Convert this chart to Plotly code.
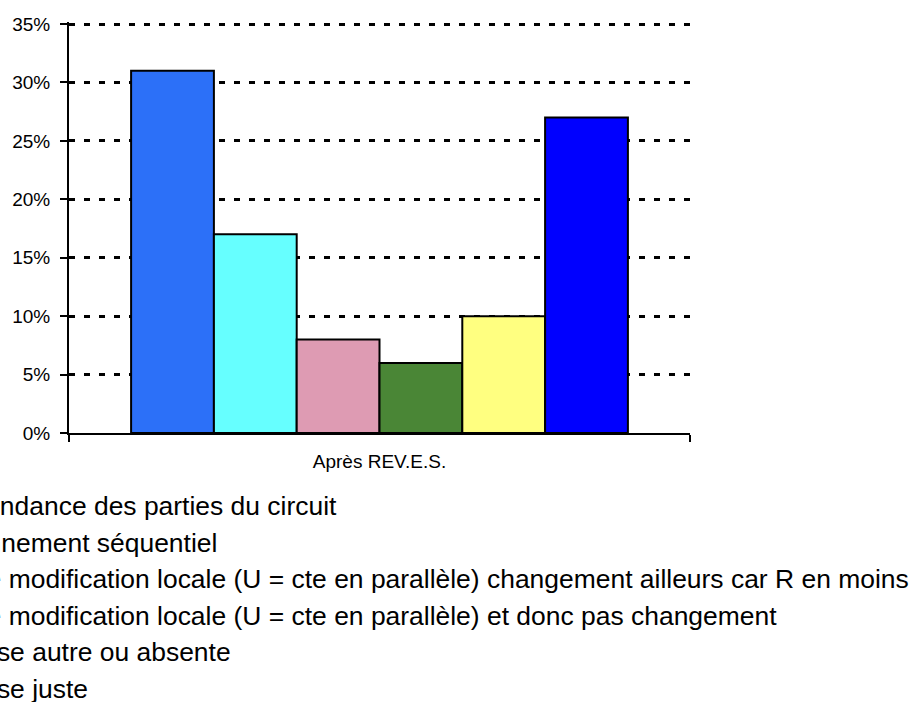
import plotly.graph_objects as go

category = ["Après REV.E.S."]
labels = [
    "Indépendance des parties du circuit",
    "Raisonnement séquentiel",
    "Pas de modification locale (U = cte en parallèle) changement ailleurs car R en moins",
    "Pas de modification locale (U = cte en parallèle) et donc pas changement",
    "Réponse autre ou absente",
    "Réponse juste",
]
values = [0.31, 0.17, 0.08, 0.06, 0.10, 0.27]
colors = ["#2C70F8", "#66FFFF", "#DE9BB3", "#4A8636", "#FFFF80", "#0000FF"]
y_ticks = [0, 0.05, 0.10, 0.15, 0.20, 0.25, 0.30, 0.35]

FONT = "Liberation Sans, Arial, sans-serif"

fig = go.Figure()
for name, v, c in zip(labels, values, colors):
    fig.add_trace(go.Bar(
        x=category, y=[v], name=name,
        marker=dict(color=c, line=dict(color="black", width=2)),
    ))

# legend text (clipped on the left side like the reference)
for i, name in enumerate(labels):
    fig.add_annotation(
        xref="paper", yref="paper", x=0, y=0,
        xanchor="left", yanchor="middle",
        xshift=-152, yshift=-(73 + 36.6 * i),
        text=name, showarrow=False,
        font=dict(family=FONT, size=26.45, color="black"),
    )

fig.update_layout(
    width=913, height=702,
    margin=dict(l=67, r=223, t=22, b=269),
    paper_bgcolor="white", plot_bgcolor="white",
    barmode="group", bargap=0.2, bargroupgap=0,
    showlegend=False,
    font=dict(family=FONT, color="black"),
)
fig.update_xaxes(
    showline=True, linecolor="black", linewidth=2,
    ticks="outside", tickson="boundaries", ticklen=7, tickwidth=2, tickcolor="black",
    tickfont=dict(family=FONT, size=19, color="black"),
    ticklabelstandoff=10,
    showgrid=False, zeroline=False,
)
fig.update_yaxes(
    range=[0, 0.35 * 411 / 409], tickmode="array", tickvals=y_ticks, tickformat=".0%",
    showline=True, linecolor="black", linewidth=2,
    ticks="outside", ticklen=7, tickwidth=2, tickcolor="black",
    tickfont=dict(family=FONT, size=19, color="black"),
    ticklabelstandoff=6,
    showgrid=True, gridcolor="black", gridwidth=3, griddash="6px,9px",
    zeroline=False,
)

fig.write_html("out.html", config={"displayModeBar": False},
               post_script="document.body.style.margin='0';")
